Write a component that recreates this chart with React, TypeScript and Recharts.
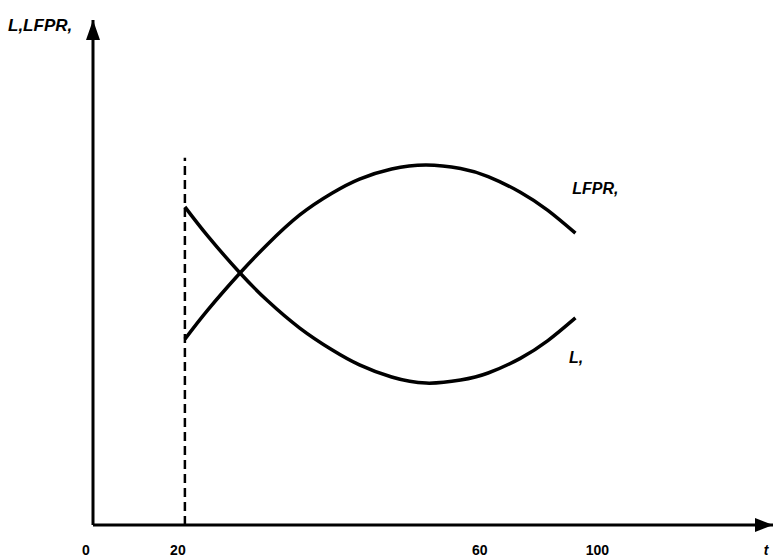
import { LineChart, Line, XAxis, YAxis, ReferenceLine, ReferenceDot } from "recharts";

// horizontal position along the time axis (schematic units) and the two curves
const ages = [20, 25, 32, 38, 45, 52, 58, 65, 72.5, 80, 86, 93, 99, 105];
const lfpr = [36.8, 42.6, 49.9, 55.6, 61.4, 65.7, 68.5, 70.5, 71.3, 70.6, 69.0, 65.9, 62.3, 57.8];
const labour = [63.0, 57.2, 49.9, 44.4, 39.0, 34.7, 31.7, 29.3, 28.1, 28.7, 30.1, 33.0, 36.5, 41.0];

// tick positions on the drawn axis and the text printed under them
const xTicks = [0, 20, 85.7, 111.3, 148];
const xTickLabels = ["0", "20", "60", "100", "t"];

const cutoffAge = 20;
const cutoffTop = 72.7;

const data = ages.map((x, i) => ({ x, lfpr: lfpr[i], labour: labour[i] }));

const FONT = "'Liberation Sans', Arial, sans-serif";

function XTick(props: any) {
  const { x, y, payload } = props;
  const i = xTicks.indexOf(payload.value);
  const label = xTickLabels[i] ?? "";
  return (
    <text
      x={x - 7}
      y={y + 28}
      textAnchor="middle"
      fontFamily={FONT}
      fontWeight="bold"
      fontStyle={label === "t" ? "italic" : "normal"}
      fontSize={14}
      fill="#000"
    >
      {label}
    </text>
  );
}

function YTitle(props: any) {
  const vb = props.viewBox || { x: 0, y: 20 };
  return (
    <text
      x={8}
      y={vb.y + 11}
      fontFamily={FONT}
      fontWeight="bold"
      fontStyle="italic"
      fontSize={17}
      fill="#000"
    >
      L,LFPR,
    </text>
  );
}

function xArrow(p: any) {
  const { cx, cy } = p;
  return <polygon points={`${cx},${cy} ${cx - 18},${cy - 7} ${cx - 18},${cy + 7}`} fill="#000" />;
}

function yArrow(p: any) {
  const { cx, cy } = p;
  return <polygon points={`${cx},${cy} ${cx - 7},${cy + 20} ${cx + 7},${cy + 20}`} fill="#000" />;
}

function curveLabel(text: string) {
  return (p: any) => (
    <text
      x={p.cx}
      y={p.cy}
      fontFamily={FONT}
      fontWeight="bold"
      fontStyle="italic"
      fontSize={16}
      fill="#000"
      dominantBaseline="middle"
    >
      {text}
    </text>
  );
}

export default function App() {
  return (
    <div style={{ position: "absolute", left: 0, top: 0, width: 773, height: 559, background: "#fff" }}>
      <LineChart width={773} height={559} data={data} margin={{ top: 20, right: 0, left: 0, bottom: 0 }}>
        <XAxis
          type="number"
          dataKey="x"
          domain={[0, 148]}
          ticks={xTicks}
          interval={0}
          tickLine={false}
          tickSize={0}
          height={34}
          axisLine={{ stroke: "#000", strokeWidth: 3 }}
          tick={<XTick />}
        />
        <YAxis
          type="number"
          domain={[0, 100]}
          width={93}
          tick={false}
          tickLine={false}
          axisLine={{ stroke: "#000", strokeWidth: 3 }}
          label={<YTitle />}
        />
        <ReferenceLine
          segment={[
            { x: cutoffAge, y: 0 },
            { x: cutoffAge, y: cutoffTop },
          ]}
          stroke="#000"
          strokeWidth={2.5}
          strokeDasharray="9 5"
        />
        <Line
          type="natural"
          dataKey="lfpr"
          stroke="#000"
          strokeWidth={3.5}
          dot={false}
          isAnimationActive={false}
        />
        <Line
          type="natural"
          dataKey="labour"
          stroke="#000"
          strokeWidth={3.5}
          dot={false}
          isAnimationActive={false}
        />
        <ReferenceDot x={148} y={0} r={0} ifOverflow="visible" shape={xArrow} />
        <ReferenceDot x={0} y={100} r={0} ifOverflow="visible" shape={yArrow} />
        <ReferenceDot x={104.3} y={66.3} r={0} ifOverflow="visible" shape={curveLabel("LFPR,")} />
        <ReferenceDot x={103.6} y={33} r={0} ifOverflow="visible" shape={curveLabel("L,")} />
      </LineChart>
    </div>
  );
}
